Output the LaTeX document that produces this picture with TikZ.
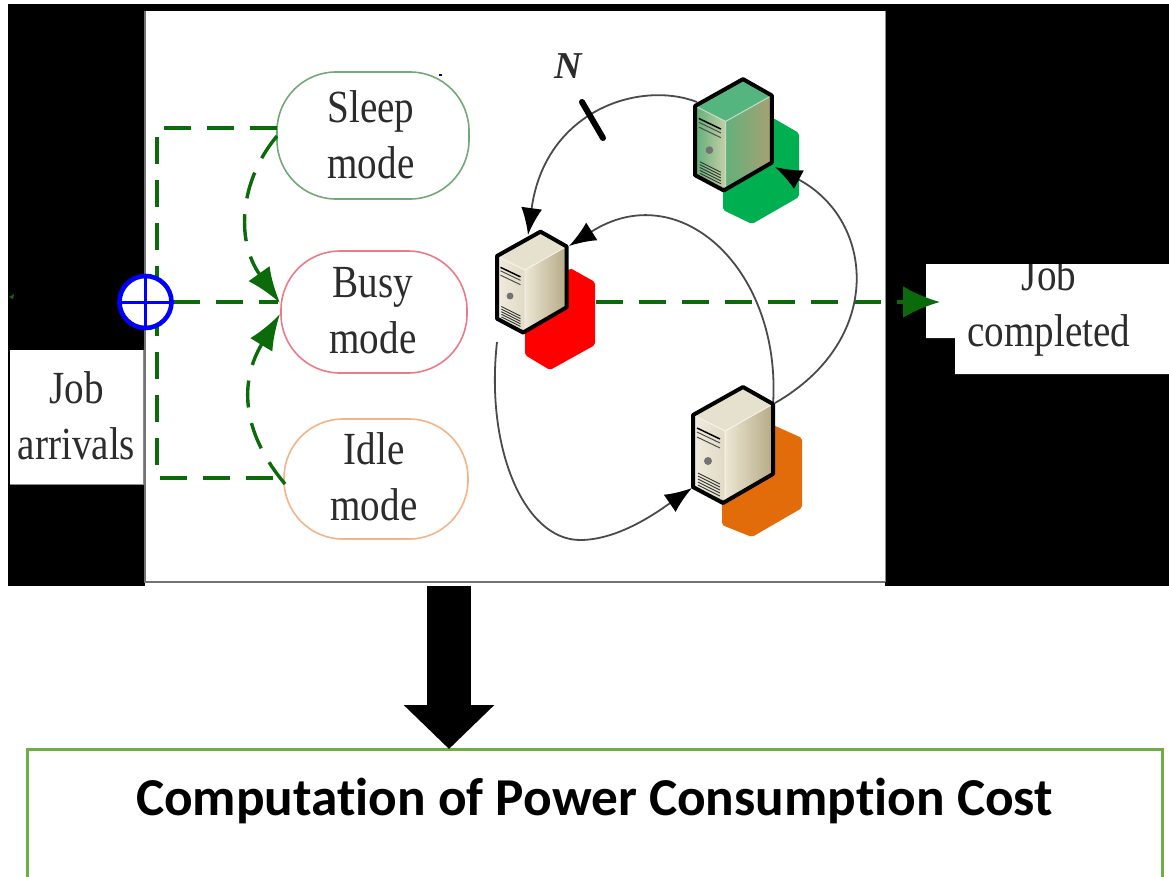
\documentclass[tikz,border=0pt]{standalone}
\usepackage{fontspec}
\setmainfont{Liberation Serif}
\newfontfamily\carlitofont[Ligatures=NoCommon]{Carlito}
\usetikzlibrary{arrows.meta}
\definecolor{dgreen}{HTML}{0B6B0B}
\definecolor{sleepc}{HTML}{74A878}
\definecolor{busyc}{HTML}{EC7A88}
\definecolor{idlec}{HTML}{F2B488}
\definecolor{txt}{HTML}{2C2C2C}
\definecolor{costc}{HTML}{70AD47}
\definecolor{hexgreen}{HTML}{00B050}
\definecolor{hexorange}{HTML}{E36C0A}
\definecolor{curvec}{HTML}{4A4A4A}
\definecolor{begtop}{HTML}{E6E0CE}
\definecolor{begfa}{HTML}{F0EBDD}
\definecolor{begfb}{HTML}{E0DAC6}
\definecolor{begsa}{HTML}{ECE6D4}
\definecolor{begsb}{HTML}{B5AA85}
\definecolor{grntop}{HTML}{55B57F}
\definecolor{grnfa}{HTML}{5FAF7A}
\definecolor{grnfb}{HTML}{C6CFA6}
\definecolor{grnsa}{HTML}{64B07A}
\definecolor{grnsb}{HTML}{A8A074}
\newcommand{\twolines}[2]{\scalebox{.85}[1]{\fontsize{46}{56}\selectfont\color{txt}\begin{tabular}{@{}c@{}}#1\\#2\end{tabular}}}
% #1 name, #2 x, #3 y, #4 scale, #5 top, #6 front-left, #7 front-right, #8 side-left, #9 side-right
\newcommand{\serverbody}[9]{%
\begin{scope}[shift={(#2,#3)},scale=#4]
\coordinate (#1) at (40,30);
\fill[#5] (0,0) -- (50,-28) -- (80,-11) -- (32,16) -- cycle;
\fill[left color=#6,right color=#7] (0,0) -- (32,16) -- (32,86) -- (0,72) -- cycle;
\fill[left color=#8,right color=#9] (32,16) -- (80,-11) -- (80,59) -- (32,86) -- cycle;
\draw[white!60!#8,line width=1pt] (0,0) -- (32,16) -- (80,-11) (32,16) -- (32,86);
\draw[black,line width=1.5pt] (4,13) -- (27,24);
\draw[black!70,line width=1pt] (4,17) -- (27,28) (4,22) -- (27,33);
\fill[black!55] (15,46) circle (4);
\foreach \d in {0,3,...,12}{\draw[black!80,line width=.9pt] (5,58+\d) -- (27,69+\d);}
\draw[black,line width=4pt,line join=round] (0,0) -- (50,-28) -- (80,-11) -- (80,59) -- (30,88) -- (0,72) -- cycle;
\end{scope}}
\tikzset{
 modebox/.style={draw,line width=1.6pt,fill=white,rounded corners=59pt,inner sep=0pt},
 flow/.style={draw=dgreen,line width=3.4pt,dash pattern=on 27pt off 16pt},
 flowhead/.style={-{Latex[length=36pt,width=26pt]}},
 ring/.style={curvec,line width=1.8pt,-{Latex[length=27pt,width=21pt,color=black]}},
 whitelabel/.style={fill=white,inner sep=0pt}
}
\begin{document}
\begin{tikzpicture}[x=1pt,y=-1pt]
\useasboundingbox (0,0) rectangle (1169,876);
\clip (0,0) rectangle (1169,876);
\fill[white] (0,0) rectangle (1169,876);
% black background and white panel
\fill[black] (8,4) rectangle (1169,586);
\fill[white] (145,11) rectangle (885,587);
\draw[black!55,line width=1.5pt] (145,11) -- (145,582) -- (885,582);
\draw[black!45,line width=1pt] (885,11) -- (885,582);
% labels on the black band
\node[whitelabel,minimum width=133pt,minimum height=134pt] (arrivals) at (76.5,417) {};
\node at (76.5,420) {\twolines{Job}{arrivals}};
\draw[black!45,line width=1pt] (10,484) -- (143,484) -- (143,350);
\fill[white] (926,264) -- (1169,264) -- (1169,374) -- (955,374) -- (955,338) -- (926,338) -- cycle;
\begin{scope}
\clip (926,264) rectangle (1169,374);
\node (completed) at (1049,307) {\twolines{Job}{completed}};
\end{scope}
\fill[dgreen] (9,297) -- (14,294) -- (13,299) -- cycle;
% mode boxes
\node[modebox,draw=sleepc,minimum width=192pt,minimum height=127pt] (sleep) at (373,135.5) {};
\node at (371,139) {\twolines{Sleep}{mode}};
\node[modebox,draw=busyc,minimum width=186pt,minimum height=122pt] (busy) at (374,312) {};
\node at (373,314) {\twolines{Busy}{mode}};
\node[modebox,draw=idlec,minimum width=184pt,minimum height=120pt] (idle) at (376,479) {};
\node at (374,481) {\twolines{Idle}{mode}};
\fill[blue!60!black] (439,74) rectangle (442,76);
% named ends
\coordinate (jn) at (145.5,302);
\coordinate (corner1) at (157,128);
\coordinate (corner2) at (157,478);
\coordinate (sleepw) at (277,128);
\coordinate (idlew) at (285,478);
\coordinate (busytip1) at (280,303);
\coordinate (busytip2) at (280,314);
\coordinate (busytip0) at (278,302);
\coordinate (sleeps) at (277,136);
\coordinate (idles) at (285,484);
\coordinate (sv1a) at (697,102);
\coordinate (sv2top) at (528,235);
\coordinate (sv2r) at (569,246);
\coordinate (sv2b) at (497,342);
\coordinate (sv3ta) at (773,405);
\coordinate (sv3tb) at (775,403);
\coordinate (sv3l) at (692,488);
\coordinate (sv1b) at (775,167);
\coordinate (busyout) at (596,302);
\coordinate (donein) at (940,302);
% dashed flows
\draw[flow] (sleepw) -- (corner1) -- (corner2) -- (idlew);
\draw[flow] (jn) ++(27,0) -- (busytip0);
\draw[flow,flowhead] (sleeps) .. controls (240,180) and (235,240) .. (busytip1);
\draw[flow,flowhead] (idles) .. controls (240,430) and (240,380) .. (busytip2);
% the junction
\node[circle,draw=blue,fill=white,line width=4.6pt,minimum size=52pt,inner sep=0pt] (sum) at (jn) {};
\draw[blue,line width=3pt] (sum.north) -- (sum.south) (sum.west) -- (sum.east);
% hexagons behind the servers
\fill[hexgreen,rounded corners=2pt] (773,118) -- (799,133) -- (799,197) -- (752,224) -- (723,210) -- (723,180) -- cycle;
\fill[red,rounded corners=2pt] (570,268) -- (595,282) -- (595,345) -- (550,370) -- (525,355) -- (525,325) -- cycle;
\fill[hexorange,rounded corners=2pt] (773,425) -- (802,438) -- (802,508) -- (752,537) -- (722,525) -- (722,490) -- cycle;
% output flow
\draw[flow,-{Latex[length=37pt,width=32pt]}] (busyout) -- (donein);
% ring
\draw[ring] (sv1a) .. controls (640,80) and (545,110) .. (sv2top);
\draw[ring] (sv3ta) .. controls (782,270) and (680,175) .. (sv2r);
\draw[ring] (sv3tb) .. controls (885,340) and (875,220) .. (sv1b);
\draw[ring] (sv2b) .. controls (485,450) and (525,540) .. (580,540) .. controls (620,540) and (660,510) .. (sv3l);
% servers
\serverbody{server1}{695}{106}{.96}{grntop}{grnfa}{grnfb}{grnsa}{grnsb}
\serverbody{server2}{497}{256}{.87}{begtop}{begfa}{begfb}{begsa}{begsb}
\serverbody{server3}{693}{415}{1}{begtop}{begfa}{begfb}{begsa}{begsb}
% N with bar
\coordinate (bara) at (582,102);
\coordinate (barb) at (603,138);
\draw[black,line width=6pt,line cap=round] (bara) -- (barb);
\node[text=txt] (nlabel) at (568,66) {\fontsize{38}{38}\selectfont\bfseries\itshape N};
% result
\node[draw=costc,line width=3pt,outer sep=0pt,minimum width=1135pt,minimum height=160pt,anchor=north west,inner sep=0pt] (cost) at (27,749) {};
\node[anchor=base] (costtext) at (594.5,815) {\carlitofont\fontsize{53.3}{53.3}\selectfont\bfseries Computation of Power Consumption Cost};
\coordinate (bigfrom) at (449,586);
\coordinate (bigto) at (449,749);
\draw[black,line width=44pt,-{Triangle[length=44pt,width=88pt]}] (bigfrom) -- (bigto);
\end{tikzpicture}
\end{document}
